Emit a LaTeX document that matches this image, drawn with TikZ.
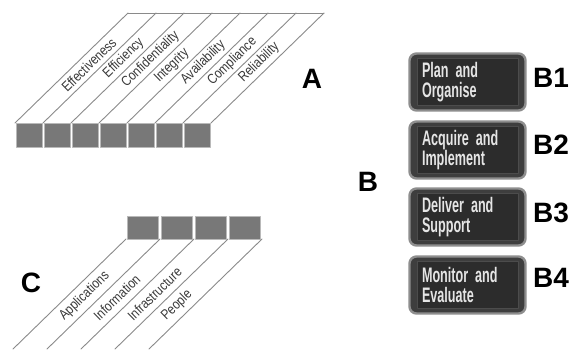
\documentclass[tikz,border=0pt]{standalone}
\usepackage{fontspec}
\setmainfont{Liberation Sans}
\newfontfamily\phasefont[FakeStretch=0.6]{Liberation Sans}
\newfontfamily\stripfont[FakeStretch=0.84]{Liberation Sans}
\definecolor{cellgray}{HTML}{787878}
\definecolor{stripgray}{HTML}{8A8A8A}
\definecolor{phaseout}{HTML}{3E3E3E}
\definecolor{phasein}{HTML}{2C2C2C}
\definecolor{phaserim}{HTML}{8E8E8E}
\tikzset{
  cell/.style={fill=cellgray,draw=gray!55,line width=0.6pt},
  stripline/.style={draw=stripgray,line width=0.9pt},
  striplabel/.style={font=\stripfont\fontsize{14}{14}\selectfont,text=black!78,inner sep=0pt},
  letter/.style={font=\bfseries\fontsize{28}{28}\selectfont,inner sep=0pt},
  phasebox/.style={draw=phaserim,fill=phaseout,line width=2.4pt,rounded corners=7pt,minimum width=116pt,minimum height=57pt},
  phasetext/.style={draw=black!70,fill=phasein,line width=0.6pt,minimum width=101pt,minimum height=47pt,text width=91pt,inner xsep=5pt,align=left,text=white!90!black,font=\phasefont\bfseries\fontsize{21}{20}\selectfont}
}
\begin{document}
\begin{tikzpicture}[x=1pt,y=-1pt,line join=round,line cap=round]
\useasboundingbox (0,0) rectangle (577,349);
\foreach \i in {0,...,6}
  \draw[cell] (15+28*\i+1,123) rectangle (15+28*\i+27,147);
\foreach \i in {0,...,7}
  \draw[stripline] (15+28*\i,123) -- ++(113,-110);
\draw[stripline] (128,13) -- (324,13);
\foreach \name/\p [count=\i from 0] in {Effectiveness/0.53,Efficiency/0.59,Confidentiality/0.58,Integrity/0.52,Availability/0.55,Compliance/0.56,Reliability/0.55}
  \path (29+28*\i,123) -- ++(113,-110) node[pos=\p,sloped,striplabel] (a\i) {\name};
\foreach \i in {0,...,3}
  \draw[cell] (126+34*\i+1,216) rectangle (126+34*\i+32,239);
\foreach \i in {0,...,4}
  \draw[stripline] (126+34*\i,239) -- ++(-113,110);
\foreach \name [count=\i from 0] in {Applications,Information,Infrastructure,People}
  \path (30+34*\i,349) -- ++(113,-110) node[pos=0.28,sloped,anchor=west,striplabel] (c\i) {\name};
\foreach \y/\txt [count=\k] in {82/{Plan and\\Organise},150/{Acquire and\\Implement},217/{Deliver and\\Support},285/{Monitor and\\Evaluate}}{
  \node[phasebox] (b\k) at (467.5,\y) {};
  \node[phasetext] (t\k) at (b\k) {\txt};
}
\foreach \x/\y [count=\k] in {551/78,551/145,551/213,551/278}
  \node[letter] (lb\k) at (\x,\y) {B\k};
\node[letter] (labA) at (312,79) {A};
\node[letter] (labB) at (368,182) {B};
\node[letter] (labC) at (31,283) {C};
\end{tikzpicture}
\end{document}
